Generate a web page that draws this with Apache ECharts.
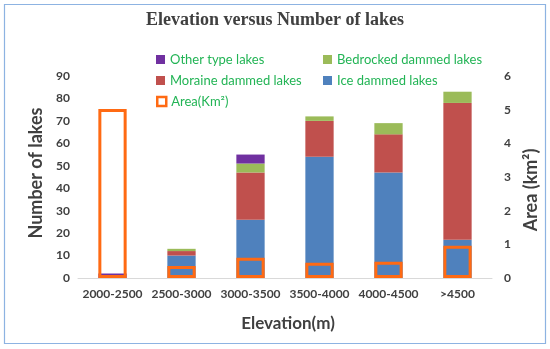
<!DOCTYPE html>
<html>
<head>
<meta charset="utf-8">
<script src="https://cdn.jsdelivr.net/npm/echarts@6/dist/echarts.min.js"></script>
<style>html,body{margin:0;padding:0;background:#fff;}#c{width:550px;height:349px;}</style>
</head>
<body>
<div id="c"></div>
<script>
const categories = ['2000-2500', '2500-3000', '3000-3500', '3500-4000', '4000-4500', '>4500'];
const iceDammed = [0, 10, 26, 54, 47, 17];
const moraineDammed = [0, 2, 21, 16, 17, 61];
const bedrockDammed = [0, 1, 4, 2, 5, 5];
const otherType = [2, 0, 4, 0, 0, 0];
const areaKm2 = [5.02, 0.36, 0.6, 0.45, 0.48, 0.96];
const leftTicks = {min: 0, max: 90, interval: 10};
const rightTicks = {min: 0, max: 6, interval: 1};

const chart = echarts.init(document.getElementById('c'), null, {renderer: 'canvas'});
const FONT = 'Lato, "Open Sans", sans-serif';
const legendText = {color: '#22B455', fontSize: 13, fontFamily: FONT};
function lg(name, left, top) {
  return {data: [name], left: left, top: top, itemWidth: 9, itemHeight: 9, itemGap: 4, padding: 0,
          textStyle: legendText, icon: 'rect'};
}
chart.setOption({
  animation: false,
  backgroundColor: '#fff',
  graphic: [{type: 'rect', shape: {x: 4.5, y: 4.5, width: 541, height: 339},
             style: {fill: 'none', stroke: '#8DB3E2', lineWidth: 1.2}, silent: true}],
  title: {text: 'Elevation versus Number of lakes', left: 'center', top: 6,
          textStyle: {fontFamily: '"Liberation Serif", serif', fontWeight: 'bold', fontSize: 18, color: '#404040'}},
  legend: [
    lg('Other type lakes', 156, 53),
    lg('Bedrocked dammed lakes', 323, 53),
    lg('Moraine dammed lakes', 156, 74),
    lg('Ice dammed lakes', 323, 74),
    Object.assign(lg('Area(Km²)', 156, 95), {itemStyle: {borderWidth: 2.5}})
  ],
  grid: {left: 78, right: 58, top: 76, bottom: 71},
  xAxis: {
    type: 'category', data: categories,
    name: 'Elevation(m)', nameLocation: 'middle', nameGap: 37,
    nameTextStyle: {fontFamily: FONT, fontWeight: 'bold', fontSize: 17, color: '#404040', padding: [0, 0, 0, 6]},
    axisLine: {lineStyle: {color: '#D9D9D9'}}, axisTick: {show: false},
    axisLabel: {fontFamily: FONT, fontWeight: 'bold', fontSize: 12, color: '#404040', margin: 10, interval: 0}
  },
  yAxis: [{
    type: 'value', min: leftTicks.min, max: leftTicks.max, interval: leftTicks.interval,
    name: 'Number of lakes', nameLocation: 'middle', nameGap: 32,
    nameTextStyle: {fontFamily: FONT, fontWeight: 'bold', fontSize: 18, color: '#404040', padding: [0, 0, 0, 8]},
    splitLine: {show: false}, axisLine: {show: false}, axisTick: {show: false},
    axisLabel: {fontFamily: FONT, fontWeight: 'bold', fontSize: 12, color: '#404040', margin: 8}
  }, {
    type: 'value', min: rightTicks.min, max: rightTicks.max, interval: rightTicks.interval,
    name: 'Area (km²)', nameLocation: 'middle', nameGap: 27,
    nameTextStyle: {fontFamily: FONT, fontWeight: 'bold', fontSize: 18, color: '#404040', padding: [0, 26, 0, 0]},
    splitLine: {show: false}, axisLine: {show: false}, axisTick: {show: false},
    axisLabel: {fontFamily: FONT, fontWeight: 'bold', fontSize: 12, color: '#404040', margin: 12}
  }],
  series: [
    {name: 'Ice dammed lakes', type: 'bar', stack: 'n', data: iceDammed, barWidth: '41%', itemStyle: {color: '#4F81BD'}},
    {name: 'Moraine dammed lakes', type: 'bar', stack: 'n', data: moraineDammed, itemStyle: {color: '#C0504D'}},
    {name: 'Bedrocked dammed lakes', type: 'bar', stack: 'n', data: bedrockDammed, itemStyle: {color: '#9BBB59'}},
    {name: 'Other type lakes', type: 'bar', stack: 'n', data: otherType, itemStyle: {color: '#7030A0'}},
    {name: 'Area(Km²)', type: 'bar', yAxisIndex: 1, data: areaKm2, barWidth: '41%', barGap: '-100%', z: 5,
     itemStyle: {color: 'rgba(255,255,255,0)', borderColor: '#FF6A13', borderWidth: 3}}
  ]
});
</script>
</body>
</html>
